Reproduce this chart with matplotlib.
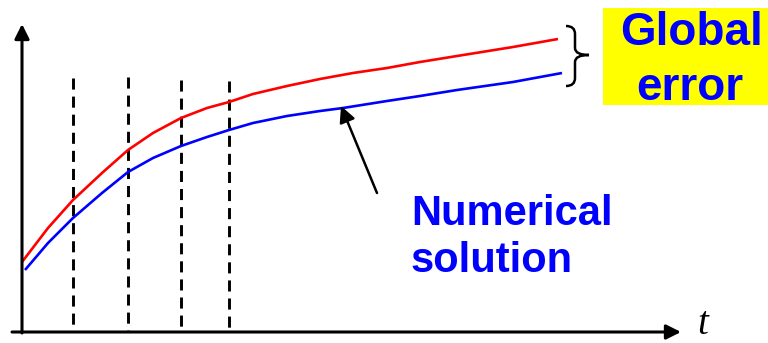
import matplotlib.pyplot as plt
from matplotlib.path import Path
from matplotlib.patches import PathPatch, Rectangle

# Sketch of global error: exact vs numerical solution (pixel-like units, y down)
t_exact = [22, 48, 73, 102, 128, 153, 181, 207, 229, 253, 287, 320, 353, 387,
           420, 457, 513, 558]
y_exact = [262, 228, 200, 173, 150, 133, 118, 108, 102, 94, 86, 79, 73, 68,
           62, 56, 47, 39]

t_num = [25, 48, 73, 102, 128, 153, 181, 207, 229, 253, 287, 320, 343, 387,
         420, 457, 513, 562]
y_num = [270, 243, 218, 193, 172, 158, 146, 137, 130, 123, 116, 111, 108, 101,
         96, 90, 82, 73]

# time steps (dashed lines)
t_steps = [73, 128, 181, 229]
step_tops = [78, 77, 80, 81]

fig = plt.figure(figsize=(7.68, 3.43), dpi=100)
ax = fig.add_axes([0, 0, 1, 1])
ax.set_xlim(0, 768)
ax.set_ylim(343, 0)
ax.axis('off')

# axes with arrows
ax.annotate('', xy=(681, 332), xytext=(12, 332),
            arrowprops=dict(arrowstyle='-|>', lw=2.2, color='k',
                            mutation_scale=22, shrinkA=0, shrinkB=0))
ax.annotate('', xy=(22, 24), xytext=(22, 333),
            arrowprops=dict(arrowstyle='-|>', lw=2.2, color='k',
                            mutation_scale=22, shrinkA=0, shrinkB=0))

# dashed step lines (drawn top-down so each starts with a dash)
for ts, top in zip(t_steps, step_tops):
    ax.plot([ts, ts], [top, 331], color='k', lw=2.1, linestyle=(0, (3.8, 2.4)))

ax.plot(t_exact, y_exact, color='#ff0000', lw=1.9, solid_capstyle='butt')
ax.plot(t_num, y_num, color='#0000ff', lw=1.9, solid_capstyle='butt')

# arrow pointing to numerical solution
ax.annotate('', xy=(341, 106), xytext=(377, 193),
            arrowprops=dict(arrowstyle='-|>', lw=1.8, color='k',
                            mutation_scale=24, shrinkA=0, shrinkB=0))
ax.text(411, 225, 'Numerical', color='#0000ff', fontsize=30, fontweight='bold',
        family='Liberation Sans', ha='left', va='baseline')
ax.text(411, 272, 'solution', color='#0000ff', fontsize=30, fontweight='bold',
        family='Liberation Sans', ha='left', va='baseline')

# brace
verts = [(566, 26), (575, 26), (575, 34),
         (575, 48), (575, 55), (589, 55),
         (575, 55), (575, 62), (575, 78),
         (575, 86), (566, 86)]
codes = [Path.MOVETO, Path.CURVE3, Path.CURVE3,
         Path.LINETO, Path.CURVE3, Path.CURVE3,
         Path.CURVE3, Path.CURVE3, Path.LINETO,
         Path.CURVE3, Path.CURVE3]
ax.add_patch(PathPatch(Path(verts, codes), fill=False, lw=1.8, color='k'))

# yellow label box
ax.add_patch(Rectangle((603, 8), 165, 97, facecolor='#ffff00', edgecolor='none'))
ax.text(691, 45, 'Global', color='#0000ff', fontsize=33, fontweight='bold',
        family='Liberation Sans', ha='center', va='baseline')
ax.text(690, 100, 'error', color='#0000ff', fontsize=33, fontweight='bold',
        family='Liberation Sans', ha='center', va='baseline')

ax.text(697, 334, 't', fontsize=28, style='italic',
        family='Liberation Serif', ha='left', va='baseline')

fig.savefig('out.png', dpi=100)
